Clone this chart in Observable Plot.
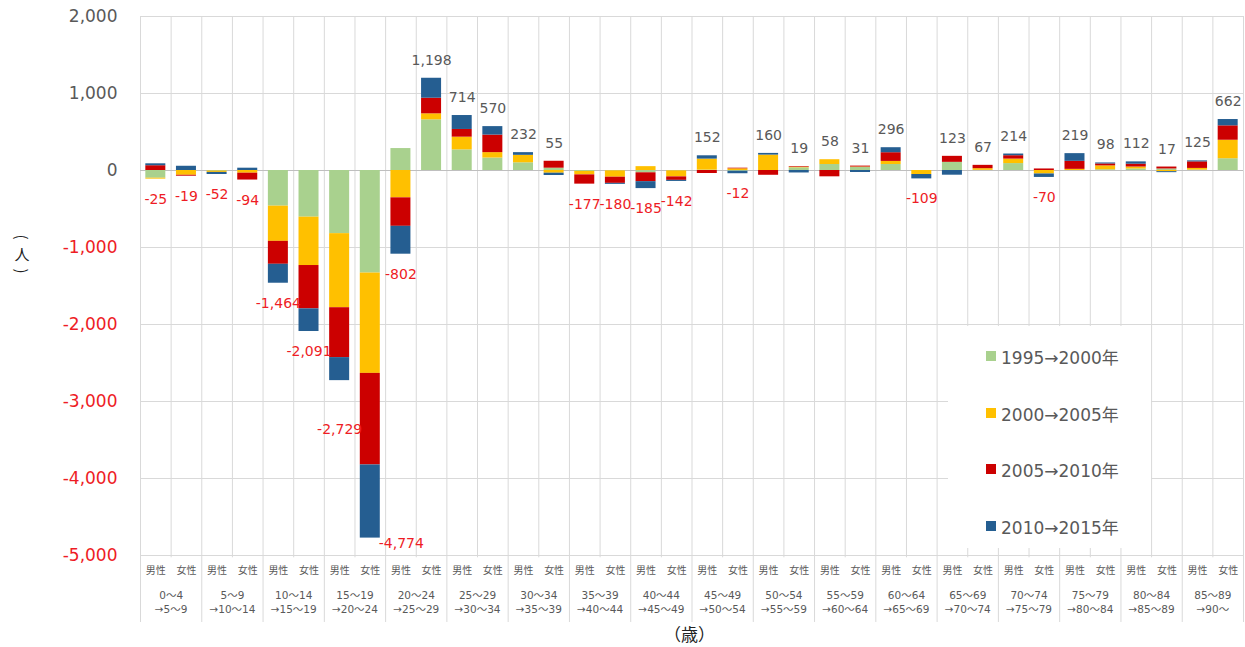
<!DOCTYPE html>
<html><head><meta charset="utf-8">
<script src="https://cdn.jsdelivr.net/npm/d3@7"></script>
<script src="https://cdn.jsdelivr.net/npm/@observablehq/plot@0.6"></script>
<style>
body{margin:0;background:#fff;}
#wrap{position:relative;width:1245px;height:647px;font-family:"DejaVu Sans","Noto Sans CJK JP",sans-serif;}
#legend{position:absolute;left:948px;top:326px;width:203px;height:222px;background:#fff;}
.li{position:absolute;left:38px;height:20px;display:flex;align-items:center;font-size:17px;color:#595959;white-space:nowrap;}
.sw{width:10px;height:10px;margin-right:5px;flex:none;}
#ylab{position:absolute;left:12px;top:229px;width:20px;color:#222;font-family:"Noto Sans CJK JP",sans-serif;}
#ylab span{position:absolute;left:0;width:20px;text-align:center;font-size:15px;line-height:16px;height:16px;}
#xlab{position:absolute;left:664px;top:622px;font-size:17px;color:#222;font-family:"Noto Sans CJK JP",sans-serif;line-height:24px;}
</style></head>
<body><div id="wrap"></div>
<script>
// ---- data ----
const ageFrom = ["0～4","5～9","10～14","15～19","20～24","25～29","30～34","35～39","40～44","45～49","50～54","55～59","60～64","65～69","70～74","75～79","80～84","85～89"];
const ageTo = ["→5～9","→10～14","→15～19","→20～24","→25～29","→30～34","→35～39","→40～44","→45～49","→50～54","→55～59","→60～64","→65～69","→70～74","→75～79","→80～84","→85～89","→90～"];
const sexes = ["男性","女性"];
const seriesNames = ["1995→2000年","2000→2005年","2005→2010年","2010→2015年"];
const seriesColors = ["#A9D18E","#FFC000","#CC0000","#255E91"];
// one value per bar (18 age groups x 男性/女性)
const v1995 = [-100,0,-8,0,-463,-606,-820,-1332,285,658,268,162,100,30,-12,-5,-30,-5,5,-10,0,35,78,40,78,0,106,2,90,0,0,10,20,20,5,153];
const v2000 = [-12,-62,-17,-35,-457,-628,-962,-1303,-355,78,165,70,97,-35,-45,-82,50,-78,143,22,200,8,62,5,40,-52,0,22,58,-45,15,50,25,-15,22,240];
const v2005 = [62,-12,0,-89,-298,-563,-648,-1189,-370,203,100,228,0,90,-120,-80,-115,-45,-39,8,-62,8,-82,12,113,0,78,43,44,20,104,25,37,25,85,187];
const v2010 = [25,55,-27,30,-246,-294,-299,-950,-362,259,181,110,35,-30,0,-13,-90,-14,43,-32,22,-32,0,-26,65,-57,-61,0,22,-45,100,13,30,-13,13,82];
const totals = [-25,-19,-52,-94,-1464,-2091,-2729,-4774,-802,1198,714,570,232,55,-177,-180,-185,-142,152,-12,160,19,58,31,296,-109,123,67,214,-70,219,98,112,17,125,662];
const yTicks = [2000,1000,0,-1000,-2000,-3000,-4000,-5000];

// ---- build ----
const seriesVals = [v1995, v2000, v2005, v2010];
const bars = d3.range(36);
const rows = [];
for (const i of bars) seriesVals.forEach((arr, k) => rows.push({i, series: seriesNames[k], value: arr[i]}));
const posTop = bars.map(i => d3.sum(seriesVals, a => Math.max(0, a[i])));
const negBot = bars.map(i => d3.sum(seriesVals, a => Math.min(0, a[i])));
const fmt = v => v.toLocaleString("en-US");

const W = 1245, H = 647, ML = 140, MR = 2, MT = 16, MB = 92;
const bw = (W - ML - MR) / 36;
const ins = (bw - 20) / 2;
const red = "#EE1C25", gray = "#595959", grid = "#D9D9D9";

const posIdx = bars.filter(i => totals[i] >= 0);
const negIdx = bars.filter(i => totals[i] < 0 && i !== 6 && i !== 7);

const chart = Plot.plot({
  width: W, height: H,
  marginLeft: ML, marginRight: MR, marginTop: MT, marginBottom: MB,
  x: {type: "band", domain: bars, padding: 0, round: false, axis: null},
  y: {domain: [-5000, 2000], axis: null},
  color: {domain: seriesNames, range: seriesColors},
  style: {fontFamily: '"DejaVu Sans","Noto Sans CJK JP",sans-serif', background: "transparent", overflow: "visible"},
  marks: [
    Plot.ruleY(yTicks, {stroke: grid, strokeWidth: 1}),
    Plot.ruleX(bars, {x: d => d, dx: -bw / 2, y1: 2000, y2: d => d % 2 === 0 ? -5870 : -5030, stroke: grid}),
    Plot.ruleX([35], {x: d => d, dx: bw / 2, y1: 2000, y2: -5870, stroke: grid}),
    Plot.ruleY([0], {stroke: "#BFBFBF"}),
    Plot.barY(rows, {x: "i", y: "value", fill: "series", insetLeft: ins, insetRight: ins}),
    Plot.text(posIdx, {x: d => d, y: d => posTop[d], text: d => fmt(totals[d]), dy: -18, fontSize: 14, fill: gray}),
    Plot.text(negIdx, {x: d => d, y: d => negBot[d], text: d => fmt(totals[d]), dy: 20, fontSize: 14, fill: red}),
    Plot.text([6], {x: d => d, y: d => negBot[d], text: d => fmt(totals[d]), dy: 49, fontSize: 14, fill: red}),
    Plot.text([7], {x: d => d, y: d => negBot[d], text: d => fmt(totals[d]), dy: 5, dx: 31, fontSize: 14, fill: red}),
    Plot.text(yTicks, {y: d => d, frameAnchor: "left", dx: -23, textAnchor: "end", text: d => fmt(d), fontSize: 17, fill: d => d < 0 ? red : gray}),
    Plot.text(bars, {x: d => d, frameAnchor: "bottom", dy: 18, text: d => sexes[d % 2], fontSize: 10, fill: gray}),
    Plot.text(d3.range(18), {x: g => 2 * g, dx: bw / 2, frameAnchor: "bottom", dy: 43, text: g => ageFrom[g], fontSize: 10.5, fill: gray}),
    Plot.text(d3.range(18), {x: g => 2 * g, dx: bw / 2, frameAnchor: "bottom", dy: 57, text: g => ageTo[g], fontSize: 10.5, fill: gray})
  ]
});

const wrap = document.getElementById("wrap");
wrap.appendChild(chart);
chart.style.position = "absolute"; chart.style.left = "0"; chart.style.top = "0";

const legend = document.createElement("div");
legend.id = "legend";
const ly = [20, 77, 133, 190];
seriesNames.forEach((n, k) => {
  const it = document.createElement("div");
  it.className = "li"; it.style.top = ly[k] + "px";
  const sw = document.createElement("span"); sw.className = "sw"; sw.style.background = seriesColors[k];
  it.appendChild(sw); it.appendChild(document.createTextNode(n));
  legend.appendChild(it);
});
wrap.appendChild(legend);

const yl = document.createElement("div"); yl.id = "ylab";
[["(", 0, true], ["人", 17, false], [")", 34, true]].forEach(([c, top, rot]) => {
  const s = document.createElement("span"); s.textContent = c; s.style.top = top + "px";
  if (rot) s.style.transform = "rotate(90deg)";
  yl.appendChild(s);
});
wrap.appendChild(yl);
const xl = document.createElement("div"); xl.id = "xlab"; xl.textContent = "（歳）"; wrap.appendChild(xl);
</script>
</body></html>
